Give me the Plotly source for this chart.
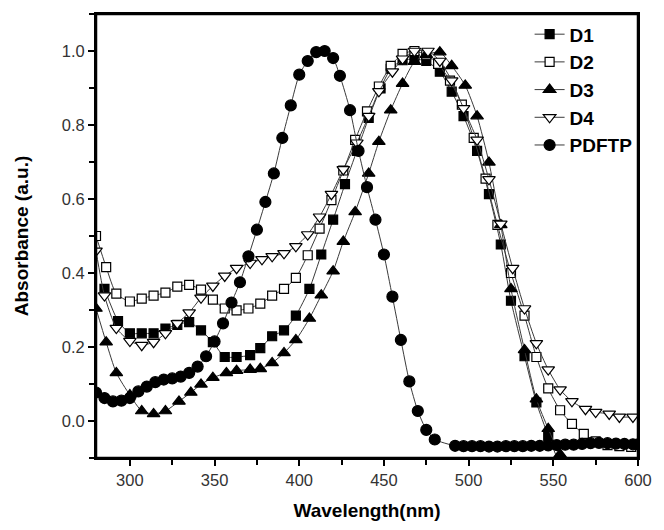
import plotly.graph_objects as go

# ---- data ----
d1_x = [285, 293, 300, 307, 314, 321, 328, 335, 342, 349, 356, 363, 371, 377, 384, 391, 398, 406,
        413, 420, 427, 434, 441, 448, 454, 461, 468, 475, 483, 490, 497, 505, 512, 519, 525, 533,
        540, 547, 554]
d1_y = [0.357, 0.27, 0.237, 0.237, 0.237, 0.25, 0.26, 0.267, 0.245, 0.213, 0.173, 0.173, 0.178,
        0.197, 0.229, 0.245, 0.285, 0.357, 0.45, 0.544, 0.64, 0.73, 0.819, 0.899, 0.952, 0.975,
        0.978, 0.973, 0.944, 0.89, 0.824, 0.73, 0.613, 0.477, 0.325, 0.175, 0.05, -0.04, -0.12]

d2_x = [280, 286, 292, 300, 307, 314, 321, 328, 335, 342, 349, 356, 363, 370, 377, 384, 391, 398,
        405, 412, 419, 426, 433, 440, 447, 454, 461, 468, 475, 482, 489, 496, 503, 510, 517, 525,
        533, 540, 547, 554, 561, 568, 575, 582, 589, 596]
d2_y = [0.50, 0.416, 0.344, 0.323, 0.331, 0.339, 0.347, 0.363, 0.368, 0.355, 0.328, 0.304, 0.299,
        0.304, 0.317, 0.339, 0.357, 0.387, 0.448, 0.52, 0.597, 0.677, 0.76, 0.837, 0.904, 0.96,
        0.992, 1.0, 0.99, 0.965, 0.92, 0.855, 0.765, 0.655, 0.53, 0.40, 0.285, 0.173, 0.088,
        0.029, -0.008, -0.035, -0.055, -0.065, -0.068, -0.07]

d3_x = [280, 286, 292, 300, 307, 314, 321, 329, 336, 342, 349, 357, 363, 371, 377, 384, 391, 398,
        406, 413, 420, 426, 433, 441, 447, 454, 461, 468, 475, 483, 490, 498, 505, 512, 519, 525,
        533, 540, 547, 554, 561]
d3_y = [0.304, 0.213, 0.13, 0.07, 0.027, 0.019, 0.027, 0.053, 0.077, 0.099, 0.117, 0.13, 0.136,
        0.139, 0.141, 0.157, 0.184, 0.219, 0.277, 0.34, 0.405, 0.485, 0.565, 0.669, 0.755, 0.84,
        0.912, 0.971, 0.99, 0.997, 0.96, 0.907, 0.824, 0.699, 0.53, 0.357, 0.192, 0.059, -0.021,
        -0.09, -0.13]

d4_x = [280, 285, 292, 300, 307, 314, 321, 328, 335, 342, 349, 356, 363, 371, 378, 384, 391, 398,
        405, 412, 419, 426, 434, 441, 447, 455, 461, 468, 476, 483, 490, 497, 505, 512, 519, 526,
        533, 540, 547, 554, 561, 569, 575, 583, 589, 597]
d4_y = [0.46, 0.339, 0.251, 0.216, 0.205, 0.213, 0.237, 0.264, 0.293, 0.333, 0.365, 0.392, 0.413,
        0.427, 0.437, 0.445, 0.453, 0.472, 0.504, 0.552, 0.613, 0.68, 0.752, 0.824, 0.891, 0.944,
        0.979, 1.0, 1.0, 0.973, 0.92, 0.845, 0.76, 0.653, 0.533, 0.413, 0.304, 0.21, 0.139, 0.085,
        0.053, 0.032, 0.024, 0.019, 0.011, 0.011]

pd_x = [280, 285, 290, 295, 300, 305, 310, 315, 320, 325, 330, 335, 340, 345, 350, 355, 360, 365,
        370, 375, 380, 385, 390, 395, 400, 405, 410, 415, 420, 424, 430, 435, 440, 445, 450, 455,
        460, 465, 470, 475, 480, 492, 497, 502, 507, 512, 517, 522, 527, 532, 537, 542, 547, 552,
        557, 562, 567, 572, 577, 582, 587, 592, 597, 600]
pd_y = [0.077, 0.062, 0.053, 0.055, 0.062, 0.08, 0.093, 0.105, 0.112, 0.115, 0.12, 0.13, 0.147,
        0.175, 0.215, 0.264, 0.32, 0.375, 0.445, 0.517, 0.592, 0.669, 0.765, 0.853, 0.936, 0.973,
        0.997, 1.0, 0.981, 0.933, 0.84, 0.73, 0.632, 0.544, 0.45, 0.336, 0.219, 0.107, 0.027,
        -0.024, -0.05, -0.067, -0.068, -0.068, -0.068, -0.069, -0.069, -0.068, -0.068, -0.068,
        -0.067, -0.067, -0.066, -0.065, -0.064, -0.064, -0.062, -0.060, -0.059, -0.060, -0.061,
        -0.062, -0.063, -0.063]

x_tick_vals = [300, 350, 400, 450, 500, 550, 600]
y_tick_vals = [0.0, 0.2, 0.4, 0.6, 0.8, 1.0]

series = [
    ("D1", d1_x, d1_y, "square", "black", 9),
    ("D2", d2_x, d2_y, "square", "white", 9),
    ("D3", d3_x, d3_y, "triangle-up", "black", 11),
    ("D4", d4_x, d4_y, "triangle-down", "white", 11),
    ("PDFTP", pd_x, pd_y, "circle", "black", 11),
]

fig = go.Figure()
for name, xs, ys, sym, fill, sz in series:
    fig.add_trace(go.Scatter(
        x=xs, y=ys, name="<b>" + name + "</b>", mode="lines+markers",
        line=dict(color="#3a3a3a", width=1, shape="spline", smoothing=0.6),
        marker=dict(symbol=sym, size=sz, color=fill,
                    line=dict(color="black", width=1.2)),
    ))

fig.update_layout(
    width=664, height=530,
    margin=dict(l=96, r=17, t=14, b=65),
    paper_bgcolor="white", plot_bgcolor="white",
    font=dict(family="Liberation Sans, Arial, sans-serif", color="#222", size=14),
    showlegend=True,
    legend=dict(x=0.80, y=0.997, xanchor="left", yanchor="top",
                bgcolor="rgba(0,0,0,0)", borderwidth=0,
                font=dict(size=19, color="black", family="Liberation Sans, Arial, sans-serif"),
                tracegroupgap=0, itemsizing="trace", traceorder="normal"),
    shapes=[dict(type="rect", xref="paper", yref="paper", x0=0, y0=0, x1=1, y1=1,
                 line=dict(color="black", width=2.5), fillcolor="rgba(0,0,0,0)", layer="above")],
)
fig.update_xaxes(
    range=[280, 600], showgrid=False, zeroline=False,
    showline=True, linecolor="black", linewidth=2, mirror=True,
    ticks="outside", ticklen=6, tickwidth=2, tickcolor="black",
    tickvals=x_tick_vals, ticktext=[str(v) for v in x_tick_vals],
    tickfont=dict(size=16.5, color="#333"),
    minor=dict(ticks="outside", ticklen=5, tickwidth=2, tickcolor="black", dtick=25, tick0=275),
    title=dict(text="<b>Wavelength(nm)</b>", font=dict(size=19, color="black"), standoff=16),
)
fig.update_yaxes(
    range=[-0.1, 1.1], showgrid=False, zeroline=False,
    showline=True, linecolor="black", linewidth=2, mirror=True,
    ticks="outside", ticklen=6, tickwidth=2, tickcolor="black",
    tickvals=y_tick_vals, ticktext=[f"{v:.1f}" for v in y_tick_vals],
    tickfont=dict(size=16.5, color="#333"),
    minor=dict(ticks="outside", ticklen=5, tickwidth=2, tickcolor="black", dtick=0.1, tick0=-0.1),
    title=dict(text="<b>Absorbance (a.u.)</b>", font=dict(size=19, color="black"), standoff=28),
)

fig.write_html("out.html", config={"responsive": False, "displayModeBar": False},
               post_script="document.body.style.margin='0';")
